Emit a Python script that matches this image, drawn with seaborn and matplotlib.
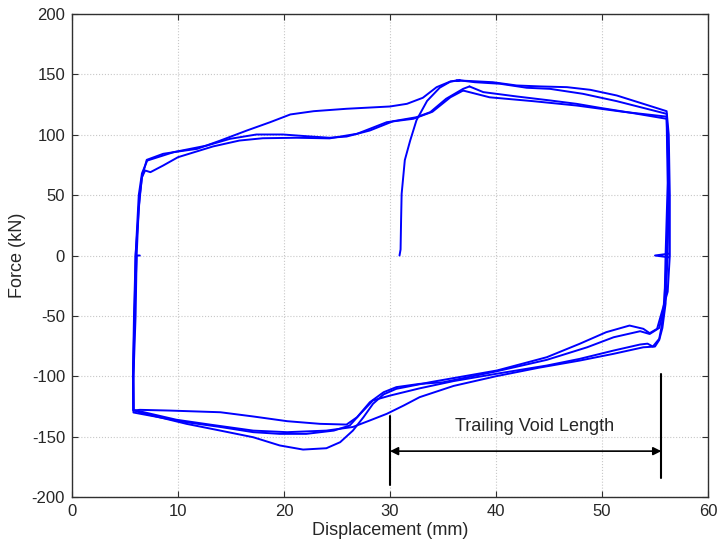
import numpy as np
import pandas as pd
import matplotlib
matplotlib.use('Agg')
import matplotlib.pyplot as plt
import seaborn as sns

# displacement (mm) / force (kN) read from the hysteresis loops
initial_x = [30.9, 31.0, 31.05, 31.1, 31.4, 31.9, 32.5, 33.5, 34.7, 35.7, 36.3]
initial_y = [0, 5, 30, 51, 79, 95, 112, 128, 139, 144, 145]

cycle1_x = [36.3, 37.5, 39.7, 41.95, 44.2, 46.7, 48.9, 51.4, 53.9, 56.1,
            56.3, 56.4, 56.4, 56.2, 55.6, 55.2, 54.5, 53.9, 52.6, 50.4, 47.9,
            44.8, 40.1, 33.8, 30.6, 29.4, 28.4, 27.5, 26.5, 25.3, 24.0, 21.8,
            19.6, 17.1, 14.0, 10.8, 6.4, 5.8,
            5.8, 5.9, 6.1, 6.3, 6.6, 7.05, 8.6, 10.0, 11.8, 14.0, 16.5, 18.7,
            20.6, 22.8, 25.9, 30.0, 31.6, 33.1, 34.4, 35.7, 36.6]
cycle1_y = [145, 144.5, 143.5, 140.8, 140, 139.4, 137.2, 132.5, 125.6, 119.5,
            100, 50, 0, -30, -48.3, -60.7, -64.3, -60.7, -58, -63.5, -73.1,
            -84.2, -95.2, -104.9, -110.4, -115, -122.8, -133.9, -145, -154.6, -159.6, -160.7,
            -157.3, -150.5, -145, -139.4, -130, -128,
            -100, -50, 0, 40, 64.8, 79.2, 84.2, 86.1, 88.3, 95.2, 103.5, 110.4,
            116.8, 119.5, 121.5, 123.4, 125.6, 130.6, 139.4, 144.1, 145]

cycle2_x = [36.6, 38.0, 40.4, 42.9, 45.1, 48.2, 51.4, 56.1,
            56.3, 56.2, 56.0, 55.8, 55.4, 54.5, 53.6, 51.1, 48.6, 44.8, 40.0,
            35.0, 32.8, 30.6, 29.4, 28.1, 26.9, 25.9, 23.4, 20.3, 17.1, 14.0,
            9.2, 6.4, 5.8,
            5.75, 5.9, 6.0, 6.3, 6.6, 7.1, 9.6, 12.7, 14.9, 17.4, 19.9, 22.1,
            24.3, 25.9, 28.1, 30.3, 32.5, 33.8, 35.3, 36.9, 37.5]
cycle2_y = [145, 143.5, 142.2, 138.9, 138, 133.9, 127.8, 117.3,
            80, 20, -20, -45, -60, -65, -62.7, -67.7, -76, -86.4, -96,
            -105, -106.3, -109, -113.2, -121.5, -133.9, -140, -139.4, -137.2, -133.3, -129.8,
            -128.4, -127.8, -128.4,
            -100, -50, 0, 50, 68, 78.6, 85.6, 91, 96.6, 100.2, 100.2, 98.8,
            97.5, 98.5, 103.5, 111.2, 114.5, 118.7, 129.8, 138, 140]

cycle3_x = [37.5, 38.8, 41.95, 45.1, 47.6, 49.8, 53.0, 56.1,
            56.2, 56.0, 55.9, 55.6, 55.4, 54.8, 54.3, 53.6, 51.1, 47.9, 44.8,
            40.0, 36.0, 32.8, 30.0, 28.4, 27.2, 26.2, 24.7, 22.1, 19.6, 17.1,
            14.0, 10.8, 6.4, 5.8,
            5.75, 5.85, 6.0, 6.4, 6.6, 6.9, 7.4, 8.6, 10.0, 13.3, 15.8, 18.0,
            21.2, 24.3, 26.9, 29.7, 32.2, 34.0, 35.7, 36.9]
cycle3_y = [140, 135.3, 131.7, 128.4, 125.6, 122.3, 117.8, 113.2,
            60, 0, -40, -60, -69, -75.4, -73, -73.7, -78.7, -85.6, -91.1,
            -98, -104, -110, -116, -120, -131.1, -140.8, -145, -147.7, -147.7, -146.3,
            -142, -138.1, -131, -130,
            -100, -50, 0, 50, 64.8, 70.4, 69, 74.5, 81.4, 90.3, 95.2, 97.1,
            97.5, 97, 100.8, 110.4, 113.2, 119, 131, 136.6]

cycle4_x = [36.9, 39.4, 43.5, 47.6, 52.0, 56.1,
            56.3, 56.2, 56.0, 55.7, 55.4, 55.0, 53.9, 51.1, 47.9, 44.0, 40.0,
            36.0, 32.8, 31.3, 29.7, 28.1, 26.5, 24.0, 20.3, 17.1, 13.0, 9.85,
            6.4, 5.8, 5.8, 6.0, 6.1, 6.4]
cycle4_y = [136.6, 131, 127.8, 124.2, 119, 115,
            60, 2, -40, -60, -70, -75.4, -76, -81.4, -87, -93, -100,
            -108, -117.3, -124.2, -131.1, -136.6, -142, -145, -146.3, -145, -140, -136,
            -129, -128, -100, -50, 0, 0]

# small unloading flag at zero force on the right
flag_x = [56.3, 55.0, 56.3]
flag_y = [1.5, 0, -1.5]

void_start = 30.0
void_end = 55.6

sns.set_style('ticks')
plt.rcParams['font.family'] = ['Liberation Sans', 'DejaVu Sans']
plt.rcParams['axes.unicode_minus'] = False

fig = plt.figure(figsize=(7.17, 5.46), dpi=100)
ax = fig.add_axes([0.1004, 0.0897, 0.887, 0.8847])

segments = [(initial_x, initial_y), (cycle1_x, cycle1_y), (cycle2_x, cycle2_y),
            (cycle3_x, cycle3_y), (cycle4_x, cycle4_y), (flag_x, flag_y)]
for sx, sy in segments:
    df = pd.DataFrame({'disp': sx, 'force': sy})
    sns.lineplot(data=df, x='disp', y='force', sort=False, estimator=None,
                 color='#0000ff', linewidth=1.4, ax=ax)
for line in ax.get_lines():
    line.set_solid_joinstyle('round')

# trailing void length annotation
ax.plot([void_start, void_start], [-133, -190], color='black', lw=1.5)
ax.plot([void_end, void_end], [-98, -184], color='black', lw=1.5)
ax.annotate('', xy=(void_start, -162), xytext=(void_end, -162),
            arrowprops=dict(arrowstyle='<|-|>', color='black', lw=1.2,
                            mutation_scale=12, shrinkA=0, shrinkB=0))
ax.text(43.6, -142, 'Trailing Void Length', ha='center', va='center', fontsize=13)

ax.set_xlim(0, 60)
ax.set_ylim(-200, 200)
ax.set_xticks(np.arange(0, 61, 10))
ax.set_yticks(np.arange(-200, 201, 50))
ax.grid(True, linestyle=':', color='#c8c8c8', linewidth=0.8)
ax.tick_params(direction='in', length=4, top=True, right=True, labelsize=12, pad=5,
               color='#303030')
for sp in ax.spines.values():
    sp.set_color('#303030')
    sp.set_linewidth(1.0)
ax.set_xlabel('Displacement (mm)', fontsize=13, labelpad=2)
ax.set_ylabel('Force (kN)', fontsize=13, labelpad=4)

fig.savefig('out.png', dpi=100)
